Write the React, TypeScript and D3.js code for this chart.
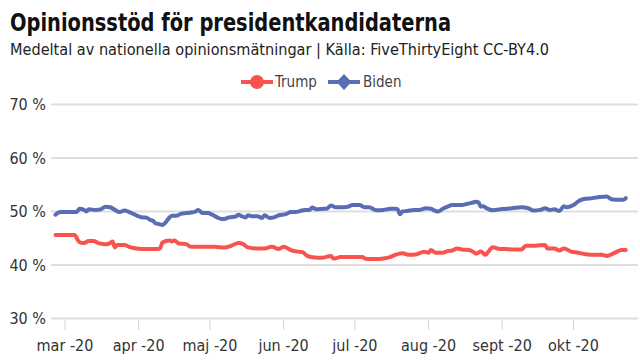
import React from "react";
import * as d3 from "d3";

const titleText = "Opinionsstöd för presidentkandidaterna";
const subtitleText = "Medeltal av nationella opinionsmätningar | Källa: FiveThirtyEight CC-BY4.0";

const seriesNames = ["Trump", "Biden"];
const seriesColors = ["#f7544f", "#5a6cb3"];

const yTicks = [30, 40, 50, 60, 70];
const xTickDates = ["2020-03-01", "2020-04-01", "2020-05-01", "2020-06-01", "2020-07-01", "2020-08-01", "2020-09-01", "2020-10-01"];
const xTickLabels = ["mar -20", "apr -20", "maj -20", "jun -20", "jul -20", "aug -20", "sept -20", "okt -20"];

const bidenDates = [
  "2020-02-26", "2020-02-28", "2020-03-06", "2020-03-07", "2020-03-09", "2020-03-10", "2020-03-11", "2020-03-14",
  "2020-03-16", "2020-03-18", "2020-03-20", "2020-03-22", "2020-03-24", "2020-03-26", "2020-03-28", "2020-03-30",
  "2020-04-01", "2020-04-03", "2020-04-04", "2020-04-06", "2020-04-07", "2020-04-08", "2020-04-10", "2020-04-11",
  "2020-04-12", "2020-04-14", "2020-04-15", "2020-04-17", "2020-04-19", "2020-04-21", "2020-04-23", "2020-04-25",
  "2020-04-26", "2020-04-28", "2020-04-30", "2020-05-02", "2020-05-04", "2020-05-06", "2020-05-07", "2020-05-09",
  "2020-05-12", "2020-05-13", "2020-05-14", "2020-05-16", "2020-05-17", "2020-05-19", "2020-05-21", "2020-05-23",
  "2020-05-24", "2020-05-26", "2020-05-28", "2020-05-30", "2020-06-02", "2020-06-04", "2020-06-06", "2020-06-08",
  "2020-06-10", "2020-06-12", "2020-06-13", "2020-06-15", "2020-06-18", "2020-06-19", "2020-06-21", "2020-06-23",
  "2020-06-25", "2020-06-28", "2020-06-30", "2020-07-03", "2020-07-05", "2020-07-07", "2020-07-10", "2020-07-13",
  "2020-07-16", "2020-07-18", "2020-07-19", "2020-07-20", "2020-07-21", "2020-07-23", "2020-07-26", "2020-07-28",
  "2020-07-31", "2020-08-02", "2020-08-04", "2020-08-05", "2020-08-07", "2020-08-09", "2020-08-11", "2020-08-15",
  "2020-08-17", "2020-08-19", "2020-08-21", "2020-08-22", "2020-08-23", "2020-08-24", "2020-08-25", "2020-08-28",
  "2020-09-01", "2020-09-05", "2020-09-09", "2020-09-12", "2020-09-14", "2020-09-17", "2020-09-19", "2020-09-21",
  "2020-09-23", "2020-09-25", "2020-09-27", "2020-09-28", "2020-09-30", "2020-10-01", "2020-10-03", "2020-10-05",
  "2020-10-09", "2020-10-12", "2020-10-15", "2020-10-17", "2020-10-20", "2020-10-22", "2020-10-23",
];
const bidenValues = [
  49.4, 49.9, 49.9, 50.5, 50.3, 50.0, 50.4, 50.3,
  50.4, 50.9, 50.8, 50.3, 49.9, 50.2, 49.9, 49.5,
  49.1, 48.9, 48.9, 48.4, 48.3, 47.8, 47.6, 47.5,
  47.8, 48.9, 49.2, 49.2, 49.6, 49.7, 49.8, 50.0,
  50.3, 49.7, 49.7, 49.4, 48.9, 48.6, 48.6, 48.9,
  49.1, 49.4, 49.2, 48.9, 49.3, 49.1, 49.1, 48.8,
  49.3, 48.8, 48.9, 49.3, 49.5, 49.9, 49.9, 50.1,
  50.3, 50.3, 50.75, 50.4, 50.5, 50.5, 51.1, 50.8,
  50.8, 50.9, 51.2, 51.2, 50.8, 50.8, 50.25, 50.3,
  50.5, 50.5, 50.4, 49.5, 50.0, 50.1, 50.3, 50.3,
  50.6, 50.5, 50.1, 50.0, 50.5, 50.9, 51.2, 51.2,
  51.4, 51.6, 51.8, 51.7, 50.9, 51.0, 50.7, 50.25,
  50.45, 50.6, 50.8, 50.6, 50.2, 50.3, 50.6, 50.3,
  50.4, 50.1, 51.0, 50.8, 51.0, 51.2, 51.9, 52.3,
  52.5, 52.7, 52.8, 52.3, 52.2, 52.2, 52.5,
];

const trumpDates = [
  "2020-02-26", "2020-03-05", "2020-03-07", "2020-03-09", "2020-03-11", "2020-03-13", "2020-03-15", "2020-03-18",
  "2020-03-20", "2020-03-21", "2020-03-22", "2020-03-23", "2020-03-26", "2020-03-28", "2020-03-31", "2020-04-02",
  "2020-04-06", "2020-04-09", "2020-04-10", "2020-04-11", "2020-04-14", "2020-04-15", "2020-04-16", "2020-04-18",
  "2020-04-21", "2020-04-23", "2020-04-27", "2020-05-03", "2020-05-07", "2020-05-10", "2020-05-13", "2020-05-15",
  "2020-05-17", "2020-05-21", "2020-05-24", "2020-05-27", "2020-05-30", "2020-06-01", "2020-06-04", "2020-06-07",
  "2020-06-09", "2020-06-11", "2020-06-14", "2020-06-17", "2020-06-21", "2020-06-22", "2020-06-25", "2020-07-04",
  "2020-07-06", "2020-07-09", "2020-07-13", "2020-07-16", "2020-07-18", "2020-07-21", "2020-07-24", "2020-07-27",
  "2020-07-30", "2020-08-01", "2020-08-02", "2020-08-04", "2020-08-07", "2020-08-09", "2020-08-11", "2020-08-13",
  "2020-08-15", "2020-08-18", "2020-08-20", "2020-08-21", "2020-08-23", "2020-08-25", "2020-08-26", "2020-08-28",
  "2020-08-31", "2020-09-02", "2020-09-06", "2020-09-09", "2020-09-11", "2020-09-15", "2020-09-19", "2020-09-20",
  "2020-09-23", "2020-09-25", "2020-09-27", "2020-09-30", "2020-10-03", "2020-10-06", "2020-10-10", "2020-10-13",
  "2020-10-15", "2020-10-17", "2020-10-19", "2020-10-21", "2020-10-23",
];
const trumpValues = [
  45.6, 45.6, 44.3, 44.1, 44.5, 44.5, 44.1, 43.9,
  44.1, 44.4, 43.3, 43.75, 43.75, 43.4, 43.1, 43.0,
  43.0, 43.0, 43.1, 44.2, 44.6, 44.4, 44.6, 44.0,
  43.9, 43.4, 43.4, 43.4, 43.25, 43.6, 44.1, 43.9,
  43.3, 43.1, 43.1, 43.4, 43.0, 43.4, 42.8, 42.5,
  42.4, 41.7, 41.4, 41.35, 41.7, 41.2, 41.5, 41.5,
  41.1, 41.1, 41.2, 41.5, 41.9, 42.2, 41.9, 42.0,
  42.5, 42.3, 42.8, 42.3, 42.3, 42.6, 42.7, 43.1,
  42.9, 42.8, 42.4, 42.1, 42.5, 41.9, 42.4, 43.3,
  43.0, 43.0, 42.9, 42.9, 43.6, 43.6, 43.75, 43.1,
  43.1, 42.7, 43.1, 42.5, 42.3, 42.0, 41.9, 41.9,
  41.7, 42.0, 42.4, 42.8, 42.8,
];

const W = 640;
const H = 360;
const parse = d3.utcParse("%Y-%m-%d");

export default function App() {
  const x = d3
    .scaleUtc()
    .domain([parse("2020-03-01")!, parse("2020-10-01")!])
    .range([65, 573.5]);
  const y = d3.scaleLinear().domain([30, 70]).range([318.5, 104.5]);

  const series = [
    { name: seriesNames[0], color: seriesColors[0], data: trumpDates.map((d, i) => ({ date: parse(d)!, v: trumpValues[i] })) },
    { name: seriesNames[1], color: seriesColors[1], data: bidenDates.map((d, i) => ({ date: parse(d)!, v: bidenValues[i] })) },
  ];

  const line = d3
    .line<{ date: Date; v: number }>()
    .x((d) => x(d.date))
    .y((d) => y(d.v))
    .curve(d3.curveMonotoneX);

  const font = "'Liberation Sans Narrow', 'DejaVu Sans Condensed', 'Open Sans', sans-serif";
  const textColor = "#333";

  return (
    <svg width={W} height={H} style={{ position: "absolute", left: 0, top: 0, background: "#fff" }}>
      <text x={10} y={31} fontFamily={font} fontWeight="bold" fontSize={25} fill="#111" textLength={441} lengthAdjust="spacingAndGlyphs">
        {titleText}
      </text>
      <text x={10} y={55} fontFamily={font} fontSize={16.5} fill="#222" textLength={539} lengthAdjust="spacingAndGlyphs">
        {subtitleText}
      </text>

      {/* grid */}
      {yTicks.map((t) => (
        <g key={t}>
          <line x1={51} x2={638} y1={y(t)} y2={y(t)} stroke="#dedede" strokeWidth={2} />
          <text x={46} y={y(t) + 5.5} textAnchor="end" fontFamily={font} fontSize={16} fill={textColor}>
            {`${t} %`}
          </text>
        </g>
      ))}

      {/* x ticks */}
      {xTickDates.map((d, i) => {
        const xx = x(parse(d)!);
        return (
          <g key={d}>
            <line x1={xx} x2={xx} y1={320} y2={330} stroke="#c9d5e8" strokeWidth={1} />
            <text x={xx} y={351} textAnchor="middle" fontFamily={font} fontSize={16} fill={textColor}>
              {xTickLabels[i]}
            </text>
          </g>
        );
      })}

      {/* lines */}
      {series.map((s) => (
        <path key={s.name} d={line(s.data) || ""} fill="none" stroke={s.color} strokeWidth={4} strokeLinejoin="round" strokeLinecap="round" />
      ))}

      {/* legend */}
      <g>
        <line x1={241} x2={273} y1={82} y2={82} stroke={seriesColors[0]} strokeWidth={4} />
        <circle cx={257} cy={82} r={7} fill={seriesColors[0]} />
        <text x={275} y={87} fontFamily={font} fontSize={15} fill="#444">
          {seriesNames[0]}
        </text>
        <line x1={328} x2={360} y1={82} y2={82} stroke={seriesColors[1]} strokeWidth={4} />
        <path d="M0,-8L7.5,0L0,8L-7.5,0Z" transform="translate(344,82)" fill={seriesColors[1]} />
        <text x={363} y={87} fontFamily={font} fontSize={15} fill="#444">
          {seriesNames[1]}
        </text>
      </g>
    </svg>
  );
}
